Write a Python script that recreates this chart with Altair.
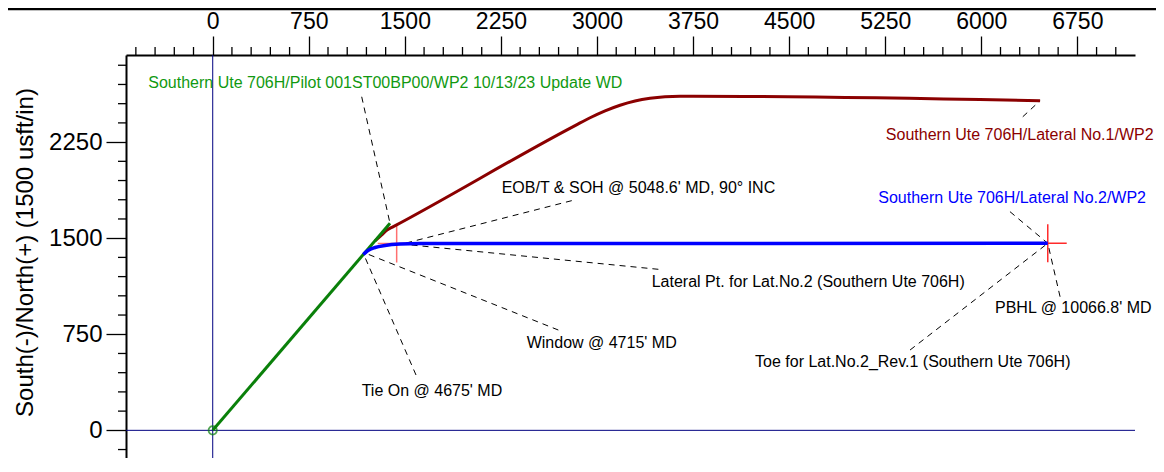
import altair as alt
import pandas as pd

FONT = "Liberation Sans"

# ---- well paths (East +, North +) in usft ----
pilot_E = [0, 1384]
pilot_N = [0, 1616]

lat1_E = [1267, 1314, 1361, 1410, 2829, 2946, 3063, 3180, 3297, 3414, 3531, 3648, 3750, 6459]
lat1_N = [1478, 1521, 1564, 1590, 2379, 2440, 2494, 2538, 2571, 2592, 2604, 2608, 2608, 2573]

lat2_E = [1176, 1212, 1267, 1345, 1462, 1618, 6519]
lat2_N = [1373, 1404, 1427, 1443, 1454, 1458, 1460]

# ---- targets (cross markers) ----
target_E = [1436, 6519]
target_N = [1458, 1460]
target_col = ["#ff7070", "#ff2a2a"]
cross_half = 148

# ---- annotations ----
ann_text = [
    "Southern Ute 706H/Pilot 001ST00BP00/WP2 10/13/23 Update WD",
    "EOB/T & SOH @ 5048.6' MD, 90° INC",
    "Lateral Pt. for Lat.No.2 (Southern Ute 706H)",
    "Window @ 4715' MD",
    "Tie On @ 4675' MD",
    "Southern Ute 706H/Lateral No.1/WP2",
    "Southern Ute 706H/Lateral No.2/WP2",
    "PBHL @ 10066.8' MD",
    "Toe for Lat.No.2_Rev.1 (Southern Ute 706H)",
]
ann_E = [-503, 2256, 3427, 2451, 1163, 5255, 5196, 6107, 4234]
ann_N = [2711, 1889, 1160, 679, 309, 2305, 1811, 952, 536]
ann_col = ["#119911", "black", "black", "black", "black", "#8b0000", "#0000ff", "black", "black"]

lead_E1 = [1163, 2803, 3479, 2698, 1587, 6324, 6224, 6615, 5444]
lead_N1 = [2604, 1793, 1257, 783, 432, 2448, 1707, 1043, 627]
lead_E2 = [1384, 1501, 1436, 1189, 1176, 6459, 6519, 6519, 6519]
lead_N2 = [1616, 1460, 1458, 1384, 1380, 2573, 1460, 1460, 1460]

# ---- axes ----
x_major = [0, 750, 1500, 2250, 3000, 3750, 4500, 5250, 6000, 6750]
y_major = [0, 750, 1500, 2250]
x_minor = [v for v in range(-600, 7200, 150) if v % 750 != 0]
y_minor = [v for v in range(-150, 2931, 150) if v % 750 != 0]

W, H = 1009, 403
xs = alt.Scale(domain=[-677, 7200], nice=False, zero=False)
ys = alt.Scale(domain=[-216, 2930], nice=False, zero=False)

x_axis = alt.Axis(
    orient="top", values=x_major, format="d", tickSize=19, tickWidth=1.3, tickColor="black",
    domainColor="black", domainWidth=2, labelFont=FONT, labelFontSize=23,
    labelColor="black", labelPadding=3, grid=False, title=None,
    labelFlush=False, labelOverlap=False,
)
y_axis = alt.Axis(
    orient="left", values=y_major, format="d", tickSize=20, tickWidth=1.3, tickColor="black",
    domainColor="black", domainWidth=2, labelFont=FONT, labelFontSize=24,
    labelColor="black", labelPadding=4, grid=False,
    title="South(-)/North(+) (1500 usft/in)", titleFont=FONT, titleFontSize=24,
    titleFontWeight="normal", titleColor="black", titleAngle=270,
    titleAlign="center", titleBaseline="middle", titleX=-101, titleY=197,
    labelOverlap=False,
)


def X(f):
    return alt.X(f, type="quantitative", scale=xs, axis=x_axis)


def Y(f):
    return alt.Y(f, type="quantitative", scale=ys, axis=y_axis)


vline = alt.Chart(pd.DataFrame({"E": [0]})).mark_rule(color="#000080", strokeWidth=1).encode(
    x=X("E"))
hline = alt.Chart(pd.DataFrame({"N": [0]})).mark_rule(color="#000080", strokeWidth=1).encode(
    y=Y("N"))

xminor = alt.Chart(pd.DataFrame({"v": x_minor})).mark_rule(color="black", strokeWidth=1.3).encode(
    x=X("v"), y=alt.value(-8), y2=alt.value(0))
yminor = alt.Chart(pd.DataFrame({"v": y_minor})).mark_rule(color="black", strokeWidth=1.3).encode(
    y=Y("v"), x=alt.value(-8), x2=alt.value(0))

topline = alt.Chart(pd.DataFrame({"a": [0]})).mark_rule(color="black", strokeWidth=2.5).encode(
    x=alt.value(-118), x2=alt.value(W + 21), y=alt.value(-46))

lead_df = pd.DataFrame({"E1": lead_E1, "N1": lead_N1, "E2": lead_E2, "N2": lead_N2})
leaders = alt.Chart(lead_df).mark_rule(color="black", strokeWidth=1, strokeDash=[6, 5]).encode(
    x=X("E1"), y=Y("N1"), x2="E2", y2="N2")

tgt = pd.DataFrame({"E": target_E, "N": target_N, "c": target_col})
tgt["Ea"] = tgt["E"] - cross_half
tgt["Eb"] = tgt["E"] + cross_half
tgt["Na"] = tgt["N"] - cross_half
tgt["Nb"] = tgt["N"] + cross_half
cross_h = alt.Chart(tgt).mark_rule(strokeWidth=1.5).encode(
    x=X("Ea"), x2="Eb", y=Y("N"), color=alt.Color("c:N", scale=None))
cross_v = alt.Chart(tgt).mark_rule(strokeWidth=1.5).encode(
    x=X("E"), y=Y("Na"), y2="Nb", color=alt.Color("c:N", scale=None))


def path(E, N, color, width):
    df = pd.DataFrame({"E": E, "N": N, "i": list(range(len(E)))})
    return alt.Chart(df).mark_line(color=color, strokeWidth=width, interpolate="monotone").encode(
        x=X("E"), y=Y("N"), order="i:Q")


lat1 = path(lat1_E, lat1_N, "#8b0000", 3)
pilot = path(pilot_E, pilot_N, "#0a800a", 3)
lat2 = path(lat2_E, lat2_N, "#0000ff", 3.5)

origin = alt.Chart(pd.DataFrame({"E": [0], "N": [0]})).mark_point(
    shape="circle", size=70, color="#0a800a", strokeWidth=1.8, filled=False).encode(
    x=X("E"), y=Y("N"))

ann_df = pd.DataFrame({"t": ann_text, "E": ann_E, "N": ann_N, "c": ann_col})
labels = alt.Chart(ann_df).mark_text(
    align="left", baseline="middle", font=FONT, fontSize=16).encode(
    x=X("E"), y=Y("N"), text="t:N", color=alt.Color("c:N", scale=None))

chart = alt.layer(
    vline, hline, xminor, yminor, topline, leaders, cross_h, cross_v,
    lat1, pilot, lat2, origin, labels,
).properties(
    width=W, height=H,
    autosize=alt.AutoSizeParams(type="none"),
    padding={"left": 118, "top": 47, "right": 21, "bottom": 0},
    background="white",
).configure_view(stroke=None)

chart.save("out.html", embed_options={"renderer": "svg", "actions": False})
